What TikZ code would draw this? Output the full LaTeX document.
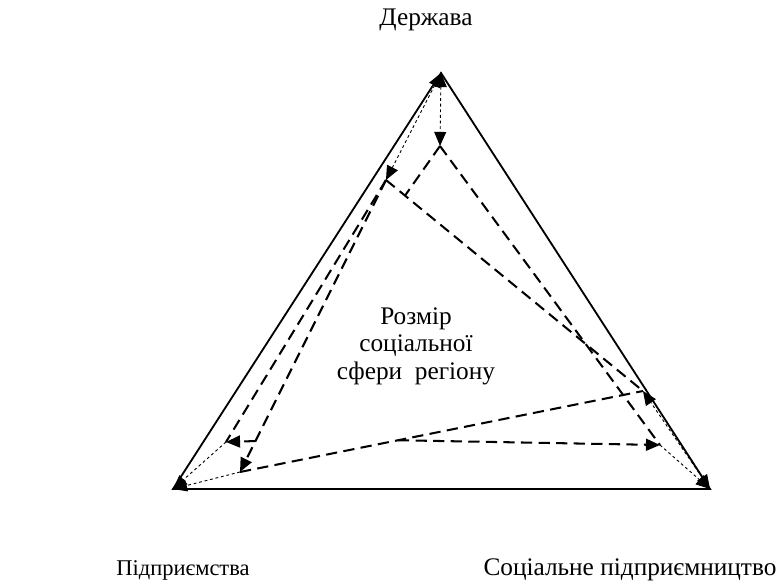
\documentclass[tikz,border=0pt]{standalone}
\usepackage{fontspec}
\setmainfont{Liberation Serif}
\usepackage{tikz}
\usetikzlibrary{arrows.meta,calc}

\begin{document}
\begin{tikzpicture}[
    frame/.style={line width=1.3pt},
    dline/.style={line width=1.45pt, dash pattern=on 8pt off 4.5pt},
    dotline/.style={line width=0.65pt, dash pattern=on 2pt off 2pt},
    endtip/.style={-{Triangle[length=10pt,width=8.5pt]}},
    bothtips/.style={{Triangle[length=10pt,width=8.5pt]}-{Triangle[length=10pt,width=8.5pt]}},
    lbl/.style={font=\fontsize{18}{19.5}\selectfont}
]
    \useasboundingbox (0,0) rectangle (19.5,14.65);

    % Main triangle
    \coordinate (T) at (11.025, 12.825);
    \coordinate (L) at (4.325, 2.425);
    \coordinate (R) at (17.75, 2.425);
    \draw[frame] (T) -- (R) -- (L) -- cycle;

    % Inner points
    \coordinate (A) at (11.0, 11.0);
    \coordinate (B) at (9.65, 10.15);
    \coordinate (F) at (16.075, 4.875);
    \coordinate (G) at (16.5, 3.525);
    \coordinate (H) at (5.65, 3.6);
    \coordinate (I) at (6.0, 2.85);
    \coordinate (C) at ($(B)!0.074!(F)$);
    \coordinate (J) at ($(B)!0.894!(I)$);
    \coordinate (K) at ($(I)!0.392!(F)$);

    % Dashed sphere
    \draw[dline, endtip] (B) -- (I);
    \draw[dline] (B) -- (H);
    \draw[dline] (B) -- (F);
    \draw[dline] (I) -- (F);
    \draw[dline] (A) -- (C);
    \draw[dline] (A) -- (G);
    \draw[dline, endtip] (J) -- (H);
    \draw[dline, endtip] (K) -- (G);

    % Dotted links to the vertices
    \draw[dotline, bothtips] (T) -- (A);
    \draw[dotline, bothtips] (T) -- (B);
    \draw[dotline, endtip] (H) -- (L);
    \draw[dotline, endtip] (I) -- (L);
    \draw[dotline, bothtips] (R) -- (F);
    \draw[dotline, endtip] (G) -- (R);

    % Labels
    \node[lbl] (state) at (10.65, 14.15) {Держава};
    \node[lbl, align=center] (size) at (10.4, 6.0) {Розмір\\соціальної\\сфери\ \ регіону};
    \node[lbl, font=\fontsize{16}{19}\selectfont] (firms) at (4.575, 0.4) {Підприємства};
    \node[lbl] (socent) at (15.75, 0.4) {Соціальне підприємництво};
\end{tikzpicture}
\end{document}
